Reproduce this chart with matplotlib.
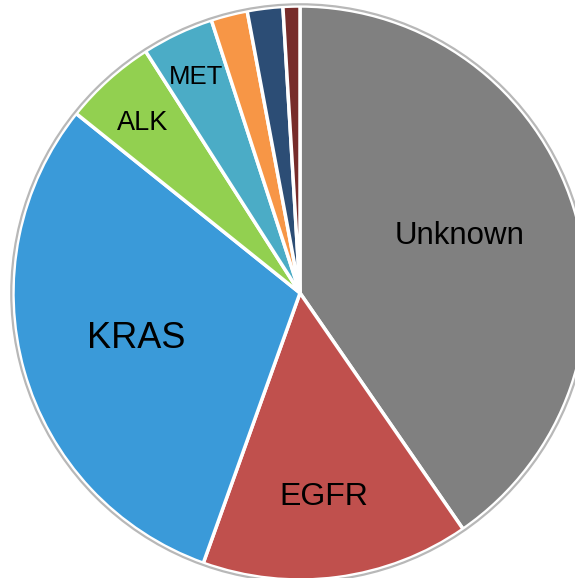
import matplotlib.pyplot as plt
from matplotlib.patches import Circle

plt.rcParams['font.family'] = ['Liberation Sans', 'DejaVu Sans']

labels = ['Unknown', 'EGFR', 'KRAS', 'ALK', 'MET', '', '', '']
shares = [40.4, 15.1, 30.3, 5.2, 4.05, 2.05, 2.0, 0.95]
colors = ['#808080', '#c0504d', '#3a9ad9', '#92d050', '#4bacc6',
          '#f79646', '#2c4d75', '#772c2a']

# label placement (data coords, baseline) and font sizes
label_pos = {'Unknown': (0.557, 0.171, 22.5),
             'EGFR': (0.084, -0.739, 23),
             'KRAS': (-0.571, -0.192, 26),
             'ALK': (-0.547, 0.568, 19.5),
             'MET': (-0.362, 0.728, 18.5)}

fig = plt.figure(figsize=(5.75, 5.78), dpi=100)
ax = fig.add_axes([0, 0, 1, 1])

ax.pie(shares, colors=colors, startangle=90, counterclock=False,
       radius=1.0, wedgeprops=dict(edgecolor='white', linewidth=2.5))
ax.add_patch(Circle((0, 0), 1.006, fill=False, edgecolor='#b8b8b8', linewidth=1.6))

for name, (x, y, fs) in label_pos.items():
    ax.text(x, y, name, ha='center', va='baseline', fontsize=fs, color='black')

ax.set_xlim(-300 / 287, 275 / 287)
ax.set_ylim(-285 / 287, 293 / 287)
ax.set_aspect('auto')
ax.axis('off')

fig.savefig('out.png', dpi=100)
